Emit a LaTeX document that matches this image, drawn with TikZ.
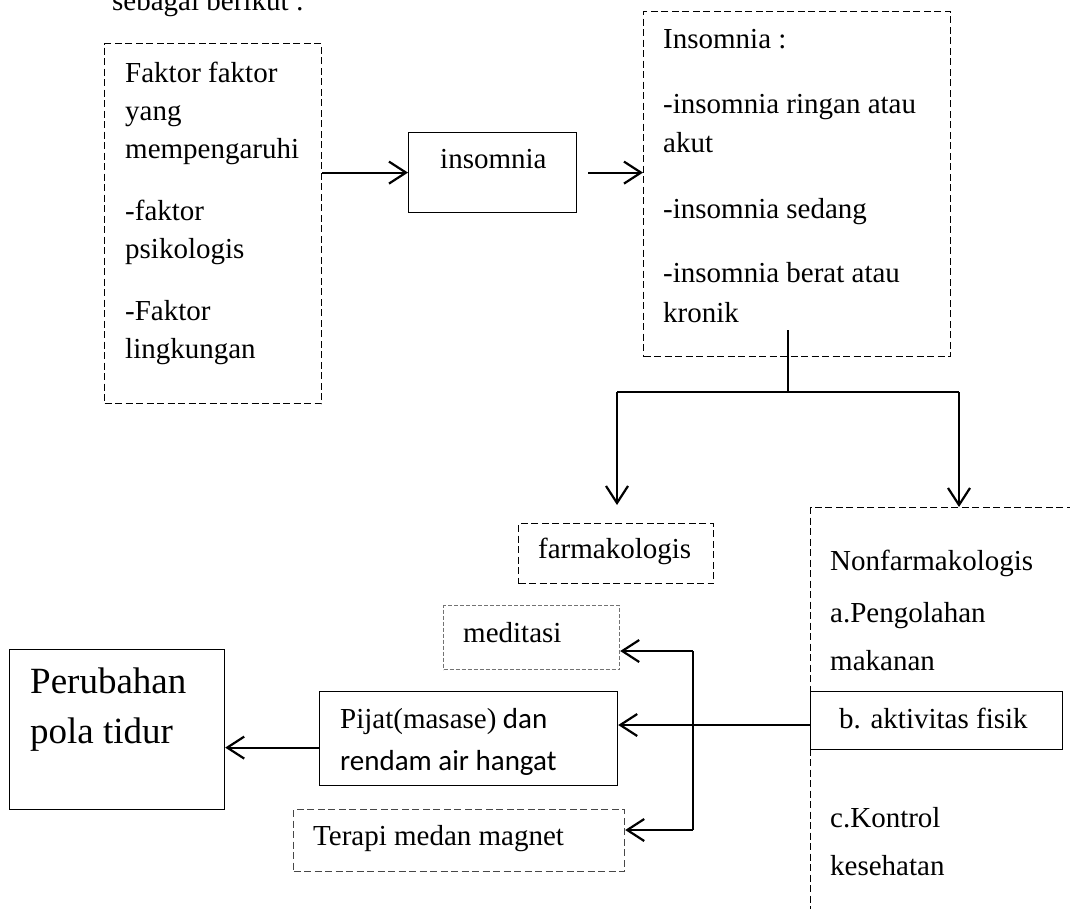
\documentclass[tikz,border=0pt]{standalone}
\usepackage{fontspec}
\setmainfont{Liberation Serif}
\newfontfamily\calfont{Carlito}
\usetikzlibrary{arrows.meta}
\tikzset{
    sbox/.style={draw, line width=1.2pt, inner sep=0pt, anchor=north west},
    dbox/.style={sbox, dash pattern=on 7pt off 3.5pt},
    gbox/.style={sbox, draw=black!72, dash pattern=on 7pt off 3.5pt},
    fbox/.style={sbox, draw=black!55, dash pattern=on 4pt off 2pt},
    txt/.style={anchor=base west, align=left, inner sep=0pt, font=\fontsize{29}{38}\selectfont},
    arr/.style={line width=2.2pt, -{Straight Barb[length=17pt,width=22pt]}},
    link/.style={line width=2.2pt}
}
\begin{document}
\begin{tikzpicture}[x=1pt, y=-1pt]
    \useasboundingbox (0,0) rectangle (1070,908);
    \clip (0,0) rectangle (1070,908);
    \node[txt] (sebagai) at (112,10) {sebagai berikut :};
    \node[dbox, minimum width=217, minimum height=360] (faktor) at (104,43) {};
    \node[txt] (faktorT) at (125,358) {Faktor faktor\\yang\\mempengaruhi\\[24pt]-faktor\\psikologis\\[24pt]-Faktor\\lingkungan};
    \node[sbox, minimum width=168, minimum height=80] (ins) at (408,132) {};
    \node[txt] (insT) at (440,168) {insomnia};
    \node[dbox, minimum width=307, minimum height=345] (info) at (643,11) {};
    \node[txt] (infoT) at (663,322) {Insomnia :\\[27pt]-insomnia ringan atau\\[1pt]akut\\[28pt]-insomnia sedang\\[26pt]-insomnia berat atau\\[2pt]kronik};
    \node[dbox, minimum width=195, minimum height=60] (farm) at (518,523) {};
    \node[txt] (farmT) at (538,558) {farmakologis};
    \node[dbox, minimum width=300, minimum height=440] (nonf) at (810,507) {};
    \node[txt] (nonfT) at (830,875) {Nonfarmakologis\\[14pt]a.Pengolahan\\[10pt]makanan\\[119pt]c.Kontrol\\[10pt]kesehatan};
    \node[sbox, fill=white, minimum width=252, minimum height=58] (bfis) at (810,691) {};
    \node[txt] (bfisT) at (839,728) {b. aktivitas fisik};
    \node[fbox, minimum width=176, minimum height=64] (medit) at (443,605) {};
    \node[txt] (meditT) at (463,642) {meditasi};
    \node[sbox, minimum width=298, minimum height=94] (pijat) at (319,691) {};
    \node[txt] (pijatT) at (340,770) {Pijat(masase){\calfont\ dan}\\[4pt]{\calfont rendam air hangat}};
    \node[gbox, minimum width=331, minimum height=62] (terapi) at (293,809) {};
    \node[txt] (terapiT) at (313,845) {Terapi medan magnet};
    \node[sbox, minimum width=215, minimum height=160] (perub) at (9,649) {};
    \node[txt, font=\fontsize{37}{50}\selectfont] (perubT) at (30,743) {Perubahan\\pola tidur};

    \draw[arr] (faktor.east |- ins.west) -- (ins.west);
    \draw[arr] ([xshift=11pt]ins.east) -- (info.west |- ins.east);
    \coordinate (kronik) at (788,330);
    \coordinate (fork) at (788,392);
    \coordinate (forkL) at (617,392);
    \coordinate (forkR) at (959,392);
    \draw[link] (kronik) -- (fork);
    \draw[link] (forkL) -- (forkR);
    \draw[arr] (forkL) -- (forkL |- 0,505);
    \draw[arr] (forkR) -- (forkR |- nonf.north);
    \coordinate (split) at (693,725);
    \coordinate (vt) at (693,651);
    \coordinate (vb) at (693,830);
    \draw[arr] (bfis.west |- split) -- (pijat.east |- split);
    \draw[link] (vt) -- (vb);
    \draw[arr] (vt) -- (medit.east |- vt);
    \draw[arr] (vb) -- (terapi.east |- vb);
    \path ([yshift=-9pt]pijat.west) coordinate (pw);
    \draw[arr] (pw) -- (perub.east |- pw);
\end{tikzpicture}
\end{document}
